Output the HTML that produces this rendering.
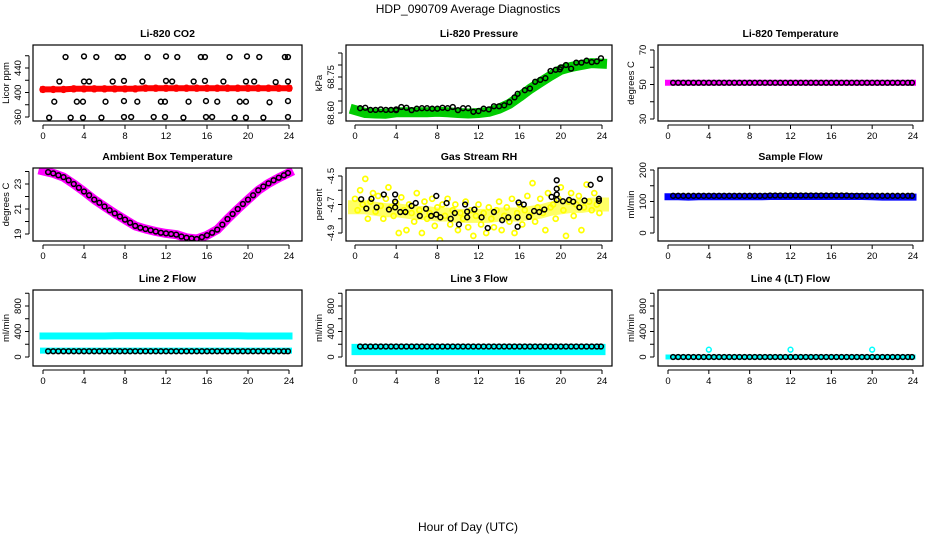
<!DOCTYPE html>
<html><head><meta charset="utf-8">
<style>
html,body{margin:0;padding:0;background:#fff;}
svg{display:block;font-family:"Liberation Sans",sans-serif;}
</style></head>
<body>
<svg id="chart" width="936" height="540" viewBox="0 0 936 540" xmlns="http://www.w3.org/2000/svg">
<rect width="936" height="540" fill="#fff"/>
<text x="468" y="13" text-anchor="middle" font-size="12">HDP_090709  Average Diagnostics</text>
<text x="468" y="531" text-anchor="middle" font-size="12">Hour of Day (UTC)</text>
</svg>
<script>
// ---- data ----
const H = [0.5,1,1.5,2,2.5,3,3.5,4,4.5,5,5.5,6,6.5,7,7.5,8,8.5,9,9.5,10,10.5,11,11.5,12,12.5,13,13.5,14,14.5,15,15.5,16,16.5,17,17.5,18,18.5,19,19.5,20,20.5,21,21.5,22,22.5,23,23.5,23.9];
const HH = [0,1,2,3,4,5,6,7,8,9,10,11,12,13,14,15,16,17,18,19,20,21,22,23,24];
const Q = [0,0.25,0.5,0.75,1,1.25,1.5,1.75,2,2.25,2.5,2.75,3,3.25,3.5,3.75,4,4.25,4.5,4.75,5,5.25,5.5,5.75,6,6.25,6.5,6.75,7,7.25,7.5,7.75,8,8.25,8.5,8.75,9,9.25,9.5,9.75,10,10.25,10.5,10.75,11,11.25,11.5,11.75,12,12.25,12.5,12.75,13,13.25,13.5,13.75,14,14.25,14.5,14.75,15,15.25,15.5,15.75,16,16.25,16.5,16.75,17,17.25,17.5,17.75,18,18.25,18.5,18.75,19,19.25,19.5,19.75,20,20.25,20.5,20.75,21,21.25,21.5,21.75,22,22.25,22.5,22.75,23,23.25,23.5,23.75];

// CO2
const co2RedBand = [405,405,405,406,406,406,406,406,406,406,407,407,407,407,407,407,407,407,407,407,407,407,407,407,407];
const co2Hours = [2.2,4,5.2,7.3,7.8,10.2,12,13.1,15.4,15.8,18.2,19.9,21.1,23.6,23.9, 1.6,4,4.5,6.8,7.9,9.7,12,12.6,14.7,15.8,17.6,19.8,20.6,22.7,23.9, 1.1,3.3,3.9,6.1,7.9,9.2,11.5,11.9,14.2,15.9,17,19.2,19.8,22.1,23.9, 0.6,2.7,3.9,5.7,7.9,8.6,10.8,11.9,13.7,15.9,16.5,18.7,19.8,21.5,23.9];
const co2Vals = [458,459,458,458,458,458,459,458,458,458,458,459,458,458,458, 418,418,418,418,419,418,419,418,418,419,418,418,418,417,418, 385,385,385,385,386,385,385,385,385,386,385,385,385,384,386, 359,359,359,359,360,360,360,360,359,360,360,359,359,359,360];

// Pressure
const presBand = [68.612,68.600,68.598,68.597,68.603,68.603,68.603,68.603,68.605,68.603,68.600,68.598,68.600,68.605,68.618,68.638,68.668,68.700,68.728,68.755,68.780,68.792,68.800,68.808,68.806];
const presHours = [0.5,1,1.5,2,2.5,3,3.5,4,4.5,5,5.5,6,6.5,7,7.5,8,8.5,9,9.5,10,10.5,11,11.5,12.5,13,13.5,14,14.5,15,15.5,15.8,16.5,17,17.5,18,18.5,19,19.5,20,20.5,21,21.5,22,22.5,23,23.5,23.9,4,12,19.9];
const presVals = [68.620,68.622,68.613,68.613,68.615,68.613,68.613,68.615,68.625,68.622,68.612,68.618,68.620,68.620,68.618,68.618,68.622,68.620,68.625,68.612,68.620,68.620,68.605,68.618,68.615,68.628,68.628,68.632,68.645,68.665,68.680,68.695,68.702,68.730,68.738,68.745,68.775,68.780,68.790,68.800,68.785,68.810,68.810,68.818,68.812,68.815,68.828,68.612,68.608,68.782];

// Li-820 temperature
const tempBand = [51,51,51,51,51,51,51,51,51,51,51,51,51,51,51,51,51,51,51,51,51,51,51,51,51];
const tempVals = [51,51,51,51,51,51,51,51,51,51,51,51,51,51,51,51,51,51,51,51,51,51,51,51,51,51,51,51,51,51,51,51,51,51,51,51,51,51,51,51,51,51,51,51,51,51,51,51];

// Ambient
const ambBand = [24.05,23.85,23.55,23.0,22.4,21.75,21.2,20.65,20.15,19.65,19.4,19.2,19.05,18.95,18.7,18.6,18.9,19.35,20.2,21.0,21.75,22.5,23.05,23.5,23.9];
const ambVals = [23.95,23.85,23.7,23.55,23.3,23.0,22.7,22.4,22.1,21.75,21.5,21.2,20.9,20.65,20.4,20.15,19.9,19.65,19.5,19.4,19.3,19.2,19.1,19.05,19.0,18.95,18.8,18.7,18.65,18.6,18.75,18.9,19.1,19.35,19.75,20.2,20.6,21.0,21.4,21.75,22.1,22.5,22.8,23.05,23.3,23.5,23.7,23.88];

// RH
const rhBand = [-4.72,-4.72,-4.73,-4.74,-4.74,-4.75,-4.76,-4.76,-4.77,-4.77,-4.78,-4.78,-4.78,-4.78,-4.77,-4.77,-4.77,-4.76,-4.75,-4.73,-4.72,-4.71,-4.71,-4.70,-4.70];
const rhYellow = [-4.66,-4.74,-4.60,-4.70,-4.52,-4.80,-4.68,-4.62,-4.75,-4.64,-4.71,-4.80,-4.66,-4.58,-4.72,-4.78,-4.69,-4.90,-4.65,-4.74,-4.88,-4.70,-4.76,-4.82,
 -4.62,-4.74,-4.90,-4.68,-4.80,-4.76,-4.66,-4.85,-4.72,-4.95,-4.70,-4.78,-4.66,-4.84,-4.74,-4.70,-4.88,-4.76,-4.80,-4.68,-4.86,-4.74,-4.92,-4.78,
 -4.70,-4.84,-4.76,-4.90,-4.72,-4.80,-4.86,-4.74,-4.68,-4.88,-4.78,-4.72,-4.82,-4.66,-4.90,-4.76,-4.70,-4.84,-4.74,-4.64,-4.78,-4.55,-4.82,-4.72,
 -4.66,-4.76,-4.88,-4.62,-4.72,-4.70,-4.80,-4.66,-4.58,-4.74,-4.92,-4.68,-4.62,-4.78,-4.70,-4.64,-4.88,-4.72,-4.56,-4.68,-4.74,-4.62,-4.70,-4.76];
const rhHours = [0.6,1.1,1.6,2.1,2.8,3.3,3.9,3.9,3.9,4.4,4.9,5.5,5.9,6.3,6.9,7.4,7.9,7.9,8.3,8.9,9.3,9.7,10.1,10.7,10.9,10.9,11.6,12.3,12.9,13.5,14.3,14.9,15.8,15.8,15.9,16.4,16.9,17.4,17.9,18.4,19.1,19.6,19.6,19.6,19.6,20.2,20.8,21.2,21.8,22.3,22.9,23.8,23.7,23.7];
const rhVals = [-4.663,-4.728,-4.66,-4.72,-4.63,-4.735,-4.63,-4.68,-4.72,-4.753,-4.753,-4.71,-4.69,-4.78,-4.73,-4.78,-4.77,-4.64,-4.79,-4.69,-4.80,-4.76,-4.84,-4.70,-4.79,-4.75,-4.735,-4.79,-4.865,-4.753,-4.81,-4.79,-4.79,-4.856,-4.686,-4.70,-4.787,-4.746,-4.753,-4.735,-4.647,-4.53,-4.59,-4.63,-4.668,-4.677,-4.668,-4.68,-4.72,-4.672,-4.562,-4.52,-4.675,-4.66];

// Flows
const sampleBand = [115,115,114,115,115,115,115,115,115,115,116,116,116,116,116,116,116,116,116,116,115,114,114,114,114];
const sampleVals = [118,118,118,118,118,118,118,118,118,118,118,118,118,118,118,118,118,118,118,119,119,119,119,119,119,119,119,119,119,119,119,119,119,119,119,118,118,118,118,118,118,118,118,118,118,118,118,118];
const line2BandHigh = [330,330,330,330,330,330,330,332,332,332,332,332,332,332,332,332,332,332,332,332,330,330,330,330,330];
const line2BandLow = [100,100,100,100,100,100,100,100,100,100,100,100,100,100,100,100,100,100,100,100,100,100,100,100,100];
const line2Vals = [90,90,90,90,90,90,90,90,90,90,90,90,90,90,90,90,90,90,90,90,90,90,90,90,90,90,90,90,90,90,90,90,90,90,90,90,90,90,90,90,90,90,90,90,90,90,90,90];
const line3BandHigh = [150,150,150,150,150,150,150,150,150,150,150,150,150,150,150,150,150,150,150,150,150,150,150,150,150];
const line3BandLow = [85,85,85,85,85,85,85,85,85,85,85,85,85,85,85,85,85,85,85,85,85,85,85,85,85];
const line3Vals = [165,165,165,165,165,165,165,165,165,165,165,165,165,165,165,165,165,165,165,165,165,165,165,165,165,165,165,165,165,165,165,165,165,165,165,165,165,165,165,165,165,165,165,165,165,165,165,165];
const line4Band = [0,0,0,0,0,0,0,0,0,0,0,0,0,0,0,0,0,0,0,0,0,0,0,0,0];
const line4Vals = [0,0,0,0,0,0,0,0,0,0,0,0,0,0,0,0,0,0,0,0,0,0,0,0,0,0,0,0,0,0,0,0,0,0,0,0,0,0,0,0,0,0,0,0,0,0,0,0];
const line4OutHours = [4,12,20];
const line4OutVals = [115,115,115];

// ---- drawing ----
const NS = "http://www.w3.org/2000/svg";
const svg = document.getElementById('chart');
const xTicks = [0,4,8,12,16,20,24];
const cols = [{bx0:33,bx1:302,x0:43,x24:289},{bx0:346,bx1:612,x0:355,x24:602},{bx0:658,bx1:923,x0:668,x24:913}];
const rows = [{by0:45,by1:121},{by0:168,by1:241},{by0:290,by1:366}];

function mk(tag, attrs, parent){
  const e = document.createElementNS(NS, tag);
  for (const k in attrs) e.setAttribute(k, attrs[k]);
  (parent||svg).appendChild(e);
  return e;
}

function panel(c, r, title, ylab, v1, p1, v2, p2, ticks, labels, fmt, name){
  const C = cols[c], R = rows[r];
  const g = mk('g', {});
  
  
  const sx = h => C.x0 + (h/24)*(C.x24 - C.x0);
  const sy = v => p1 + (v - v1)*(p2 - p1)/(v2 - v1);
  const t = mk('text', {x:(C.bx0+C.bx1)/2, y:R.by0-8, 'text-anchor':'middle', 'font-size':10.5, 'font-weight':'bold'}, g);
  t.textContent = title;
  
  
  const clip = 'clip' + c + r;
  const cp = mk('clipPath', {id:clip}, g);
  mk('rect', {x:C.bx0, y:R.by0, width:C.bx1-C.bx0, height:R.by1-R.by0}, cp);
  const plot = mk('g', {'clip-path':'url(#'+clip+')'}, g);
  
  
  const box = mk('rect', {x:C.bx0, y:R.by0, width:C.bx1-C.bx0, height:R.by1-R.by0, fill:'none', stroke:'#000', 'stroke-width':1.2}, g);
  
  
  const xl0 = sx(xTicks[0]), xl1 = sx(xTicks[xTicks.length-1]);
  mk('line', {x1:xl0, x2:xl1, y1:R.by1+4, y2:R.by1+4, stroke:'#000'}, g);
  xTicks.forEach(h => {
    mk('line', {x1:sx(h), x2:sx(h), y1:R.by1+4, y2:R.by1+8, stroke:'#000'}, g);
    const tl = mk('text', {x:sx(h), y:R.by1+18, 'text-anchor':'middle', 'font-size':9.5}, g);
    tl.textContent = h;
    
    
  });
  const ax = C.bx0 - 4;
  mk('line', {x1:ax, x2:ax, y1:sy(ticks[0]), y2:sy(ticks[ticks.length-1]), stroke:'#000'}, g);
  ticks.forEach(v => {
    mk('line', {x1:ax-4, x2:ax, y1:sy(v), y2:sy(v), stroke:'#000'}, g);
  });
  labels.forEach(v => {
    const y = sy(v);
    const tl = mk('text', {x:ax-8, y:y, 'text-anchor':'middle', 'font-size':9.5, transform:'rotate(-90 '+(ax-8)+' '+y+')'}, g);
    tl.textContent = fmt(v);
    
    
  });
  const ym = (R.by0+R.by1)/2, yx = C.bx0 - 24;
  const yt = mk('text', {x:yx, y:ym, 'text-anchor':'middle', 'font-size':9.5, transform:'rotate(-90 '+yx+' '+ym+')'}, g);
  yt.textContent = ylab;
  
  
  return {plot, sx, sy};
}

function band(P, hours, vals, color, w, name){
  const pts = hours.map((h,i) => P.sx(h).toFixed(1) + ',' + P.sy(vals[i]).toFixed(1)).join(' ');
  const pl = mk('polyline', {points:pts, fill:'none', stroke:color, 'stroke-width':w, 'stroke-linejoin':'round', 'stroke-linecap':'square'}, P.plot);
  
  
}
function points(P, hours, vals, color, name, r, sw){
  const n = Math.min(hours.length, vals.length);
  for (let i = 0; i < n; i++){
    const c = mk('circle', {cx:P.sx(hours[i]), cy:P.sy(vals[i]), r:r||2.4, fill:'none', stroke:color, 'stroke-width':sw||1.5}, P.plot);
    
    
  }
}

let P = panel(0,0,'Li-820 CO2','Licor ppm',360,117,440,68,[360,380,400,420,440,460],[360,400,440],v=>v,'co2');
band(P, HH, co2RedBand, '#ff0000', 6, 'co2-red-band');
points(P, HH, co2RedBand, '#ff0000', 'co2-red-point', 2.7, 2);
points(P, co2Hours, co2Vals, '#000', 'co2-point');

P = panel(1,0,'Li-820 Pressure','kPa',68.60,113,68.75,77,[68.60,68.65,68.70,68.75,68.80,68.85],[68.60,68.75],v=>v.toFixed(2),'pressure');
band(P, HH, presBand, '#00cc00', 10, 'pressure-green-band');
points(P, HH, presBand, '#00cc00', 'pressure-green-point', 3, 2);
points(P, presHours, presVals, '#000', 'pressure-point');

P = panel(2,0,'Li-820 Temperature','degrees C',30,119,70,50,[30,40,50,60,70],[30,50,70],v=>v,'li820-temp');
band(P, HH, tempBand, '#ff00ff', 6, 'temp-magenta-band');
points(P, H, tempVals, '#000', 'temp-point');

P = panel(0,1,'Ambient Box Temperature','degrees C',19,234,23,184,[19,20,21,22,23,24],[19,21,23],v=>v,'ambient-temp');
band(P, HH, ambBand, '#ff00ff', 9, 'ambient-magenta-band');
points(P, H, ambVals, '#000', 'ambient-point');

P = panel(1,1,'Gas Stream RH','percent',-4.9,233,-4.5,176,[-4.9,-4.8,-4.7,-4.6,-4.5],[-4.9,-4.7,-4.5],v=>v.toFixed(1),'rh');
band(P, HH, rhBand, '#ffff66', 14, 'rh-yellow-band');
points(P, Q, rhYellow, '#ffff00', 'rh-yellow-point', 2.5, 1.7);
points(P, rhHours, rhVals, '#000', 'rh-point');

P = panel(2,1,'Sample Flow','ml/min',0,233,200,170,[0,50,100,150,200],[0,100,200],v=>v,'sample-flow');
band(P, HH, sampleBand, '#0000ff', 7, 'sample-blue-band');
points(P, H, sampleVals, '#000', 'sample-point');

P = panel(0,2,'Line 2 Flow','ml/min',0,357,800,306,[0,200,400,600,800,1000],[0,400,800],v=>v,'line2-flow');
band(P, HH, line2BandHigh, '#00ffff', 7, 'line2-cyan-high-band');
band(P, HH, line2BandLow, '#00ffff', 6, 'line2-cyan-low-band');
points(P, H, line2Vals, '#000', 'line2-point');

P = panel(1,2,'Line 3 Flow','ml/min',0,357,800,306,[0,200,400,600,800,1000],[0,400,800],v=>v,'line3-flow');
band(P, HH, line3BandHigh, '#00ffff', 7, 'line3-cyan-high-band');
band(P, HH, line3BandLow, '#00ffff', 7, 'line3-cyan-low-band');
points(P, H, line3Vals, '#000', 'line3-point');

P = panel(2,2,'Line 4 (LT) Flow','ml/min',0,357,800,306,[0,200,400,600,800,1000],[0,400,800],v=>v,'line4-flow');
band(P, HH, line4Band, '#00ffff', 5, 'line4-cyan-band');
points(P, H, line4Vals, '#000', 'line4-point');
points(P, line4OutHours, line4OutVals, '#00ffff', 'line4-cyan-outlier');
</script>
</body></html>
